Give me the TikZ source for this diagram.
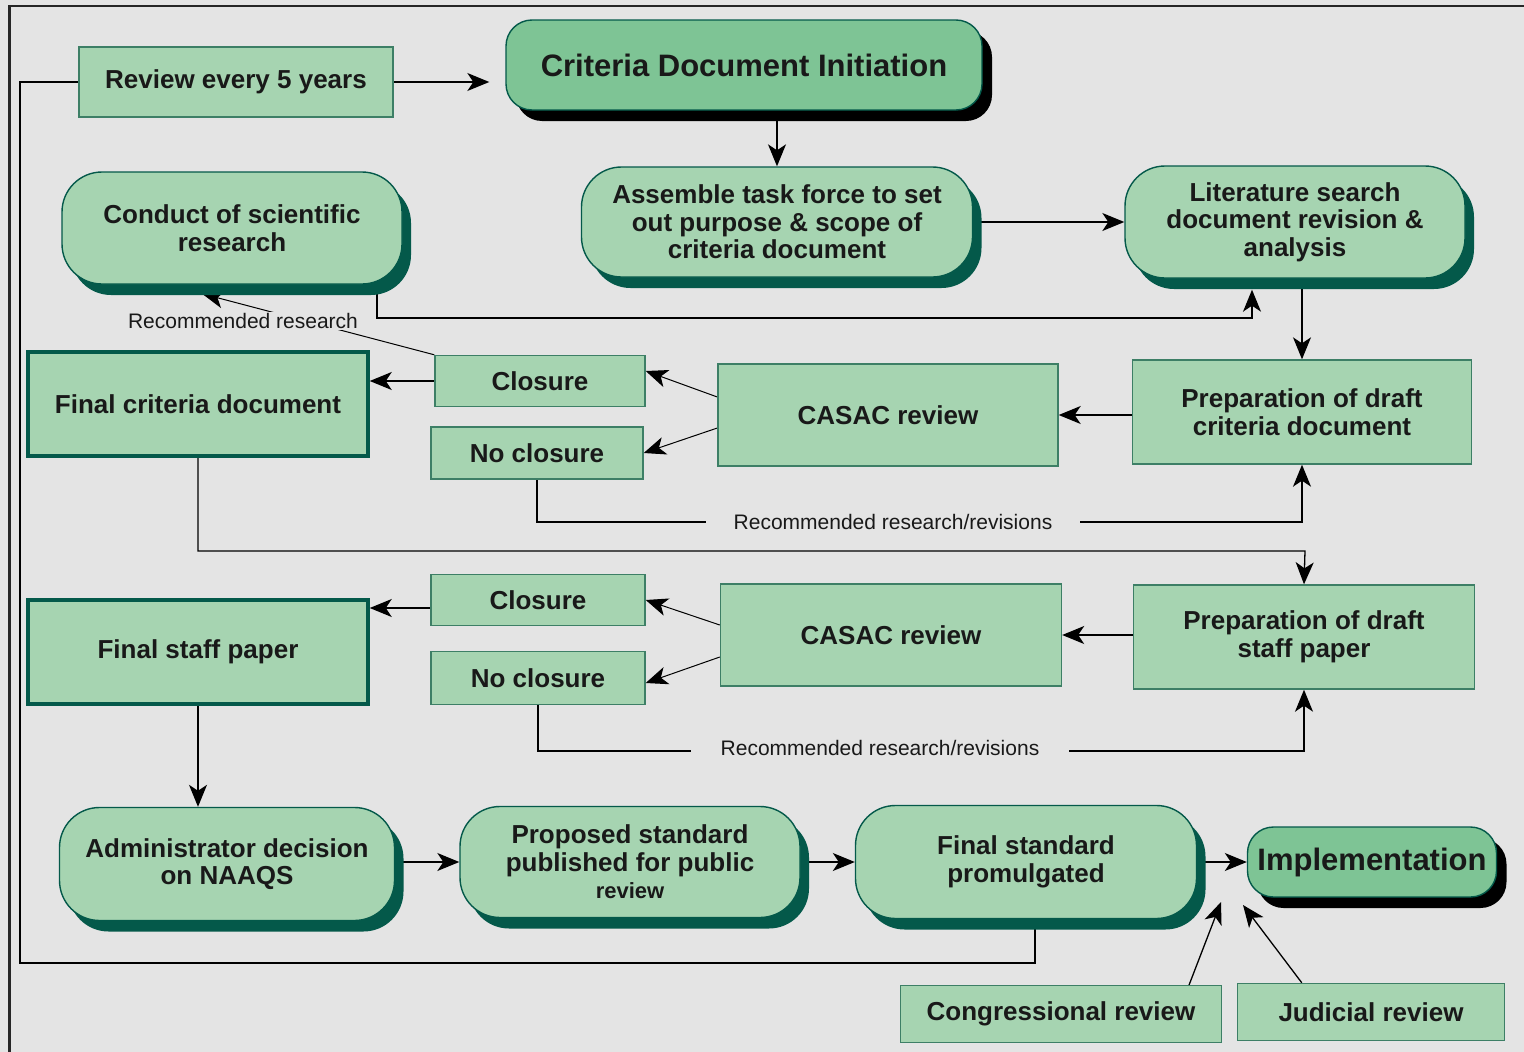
\documentclass[tikz,border=0pt]{standalone}
\usepackage{fontspec}
\setmainfont{Liberation Sans}
\usetikzlibrary{arrows.meta,shadows,backgrounds,calc}
\definecolor{bgc}{HTML}{E4E4E4}
\definecolor{pale}{HTML}{A6D4B1}
\definecolor{deep}{HTML}{7EC495}
\definecolor{edge}{HTML}{3D7F66}
\definecolor{shteal}{HTML}{04594A}
\begin{document}
\begin{tikzpicture}[x=1pt,y=-1pt,
  every node/.style={text=black!90},
  lbl/.style={font=\bfseries\fontsize{26}{27.5}\selectfont, align=center, inner sep=0pt},
  sq/.style={lbl, draw=edge, fill=pale, line width=1.4pt},
  fin/.style={sq, draw=shteal, line width=3.5pt},
  pillbase/.style={lbl, draw=shteal, fill=pale, line width=1.4pt},
  pill/.style={pillbase, rounded corners=40pt, drop shadow={shadow xshift=9pt, shadow yshift=-11pt, fill=shteal, opacity=1}},
  keypill/.style={pillbase, fill=deep, rounded corners=26pt, font=\bfseries\fontsize{31}{33}\selectfont, drop shadow={shadow xshift=10pt, shadow yshift=-11pt, fill=black, opacity=1}},
  note/.style={font=\fontsize{21}{23}\selectfont, fill=bgc, inner ysep=2pt},
  arr/.style={line width=1.3pt, -{Stealth[length=22pt,width=18pt,inset=6pt]}},
  tie/.style={line width=1.3pt},
]
\useasboundingbox (0,0) rectangle (1524,1052);

% top row
\node[sq, minimum width=314pt, minimum height=70pt] (rev) at (236,82) {Review every 5 years};
\node[keypill, minimum width=476pt, minimum height=90pt] (cdi) at (744,65) {Criteria Document Initiation};
\node[pill, minimum width=391pt, minimum height=110pt] (asm) at (777,222) {Assemble task force to set\\out purpose \& scope of\\criteria document};
\node[pill, minimum width=340pt, minimum height=112pt] (lit) at (1295,222) {Literature search\\document revision \&\\analysis};
\node[pill, minimum width=340pt, minimum height=112pt] (cond) at (232,228) {Conduct of scientific\\research};

% criteria document review
\node[fin, minimum width=340pt, minimum height=104pt] (fcd) at (198,404) {Final criteria document};
\node[sq, minimum width=210pt, minimum height=51pt] (clo1) at (540,381) {Closure};
\node[sq, minimum width=212pt, minimum height=52pt] (ncl1) at (537,453) {No closure};
\node[sq, minimum width=340pt, minimum height=102pt] (cas1) at (888,415) {CASAC review};
\node[sq, minimum width=339pt, minimum height=104pt] (prp1) at (1302,412) {Preparation of draft\\criteria document};

% staff paper review
\node[fin, minimum width=340pt, minimum height=104pt] (fsp) at (198,652) {Final staff paper};
\node[sq, minimum width=214pt, minimum height=51pt] (clo2) at (538,600) {Closure};
\node[sq, minimum width=214pt, minimum height=53pt] (ncl2) at (538,678) {No closure};
\node[sq, minimum width=341pt, minimum height=102pt] (cas2) at (891,635) {CASAC review};
\node[sq, minimum width=341pt, minimum height=104pt] (prp2) at (1304,637) {Preparation of draft\\staff paper};

% rulemaking
\node[pill, minimum width=335pt, minimum height=113pt] (adm) at (227,864) {Administrator decision\\on NAAQS};
\node[pill, minimum width=340pt, minimum height=111pt] (prop) at (630,862) {Proposed standard\\published for public\\{\fontsize{22}{25}\selectfont review}};
\node[pill, minimum width=341pt, minimum height=113pt] (fst) at (1026,862) {Final standard\\promulgated};
\node[keypill, minimum width=249pt, minimum height=70pt] (imp) at (1372,862) {Implementation};
\node[sq, minimum width=321pt, minimum height=57pt] (cng) at (1061,1014) {Congressional review};
\node[sq, minimum width=267pt, minimum height=57pt] (jud) at (1371,1012) {Judicial review};

\node[note, inner sep=1pt] (rr) at (243,321) {Recommended research};
\node[note, inner xsep=28pt] (rv1) at (893,522) {Recommended research/revisions};
\node[note, inner xsep=30pt] (rv2) at (880,748) {Recommended research/revisions};

\coordinate (j1) at (377,318);
\coordinate (j2) at (1252,318);
\coordinate (k1) at (1302,522);
\coordinate (k2) at (1305,551);
\coordinate (k3) at (1304,751);
\coordinate (back) at (1035,963);
\coordinate (t1) at (1221,902);
\coordinate (t2) at (1243,905);

\begin{pgfonlayer}{background}
\fill[bgc] (0,0) rectangle (1524,1052);
\draw[arr] (rev.east) -- ($(cdi.west |- rev.east)+(-16,0)$);
\draw[tie] (rev.west) -| (20,963) -- (back) -- (back |- fst.south);
\draw[arr] (cdi.south -| asm.north) -- (asm.north);
\draw[arr] (asm.east) -- (lit.west);
\draw[arr] (cond.south -| j1) -- (j1) -- (j2) -- ($(lit.south -| j2)+(0,11)$);
\draw[arr] (lit.south -| prp1.north) -- (prp1.north);
\draw[arr] (prp1.west |- cas1.east) -- (cas1.east);
\draw[arr, line width=1pt] ($(cas1.west)+(0,-18)$) -- ($(clo1.east)+(0,-10)$);
\draw[arr, line width=1pt] ($(cas1.west)+(0,13)$) -- (ncl1.east);
\draw[arr] (clo1.west) -- (clo1.west -| fcd.east);
\draw[arr, line width=1pt] (clo1.north west) -- ($(cond.south)+(-30,9)$);
\draw[arr] (ncl1.south) |- (k1) -- (prp1.south);
\draw[arr] (fcd.south) |- (k2) -- (prp2.north);
\draw[arr] (prp2.west |- cas2.east) -- (cas2.east);
\draw[arr, line width=1pt] ($(cas2.west)+(0,-10)$) -- (clo2.east);
\draw[arr, line width=1pt] ($(cas2.west)+(0,22)$) -- ($(ncl2.east)+(0,5)$);
\draw[arr] ($(clo2.west)+(0,8)$) -- ($(clo2.west -| fsp.east)+(0,8)$);
\draw[arr] (ncl2.south) |- (k3) -- (prp2.south);
\draw[arr] (fsp.south) -- (fsp.south |- adm.north);
\draw[arr] (prop.west -| adm.east) -- (prop.west);
\draw[arr] (fst.west -| prop.east) -- (fst.west);
\draw[arr] (imp.west -| fst.east) -- (imp.west);
\draw[arr] ($(cng.north east)+(-35,5)$) -- (t1);
\draw[arr] ($(jud.north west)+(65,0)$) -- (t2);
\end{pgfonlayer}

% frame
\draw[line width=2.5pt, black!85] (1524,6) -- (9.5,6) -- (9.5,1052);
\end{tikzpicture}
\end{document}
